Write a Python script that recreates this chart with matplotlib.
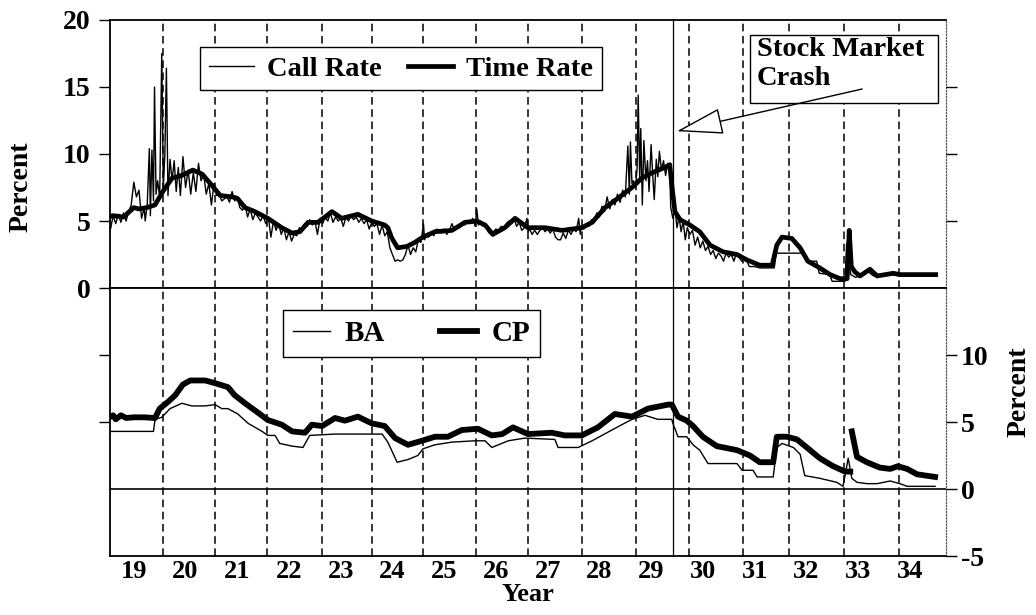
import numpy as np
import matplotlib
matplotlib.use("Agg")
import matplotlib.pyplot as plt
from matplotlib.patches import Rectangle

plt.rcParams['font.family'] = ['Liberation Serif', 'DejaVu Serif']
plt.rcParams['font.weight'] = 'bold'
plt.rcParams['axes.labelweight'] = 'bold'
plt.rcParams['axes.unicode_minus'] = False

# years are written as years since 1900 (19.5 = mid 1919)
call_yr = [19.00, 19.05, 19.10, 19.15, 19.20, 19.25, 19.30, 19.35, 19.40, 19.45,
           19.50, 19.55, 19.60, 19.65, 19.70, 19.72, 19.76, 19.80, 19.82, 19.85,
           19.88, 19.90, 19.93, 19.96, 20.00, 20.04, 20.07, 20.10, 20.13, 20.16,
           20.20, 20.24, 20.28, 20.32, 20.36, 20.40, 20.45, 20.50, 20.55, 20.60,
           20.65, 20.70, 20.75, 20.80, 20.85, 20.90, 20.95, 21.00, 21.05, 21.10,
           21.15, 21.20, 21.30, 21.35, 21.40, 21.45, 21.50, 21.55, 21.60, 21.65,
           21.70, 21.75, 21.80, 21.85, 21.90, 21.95, 22.00, 22.05, 22.10, 22.15,
           22.20, 22.25, 22.30, 22.35, 22.40, 22.45, 22.50, 22.55, 22.60, 22.65,
           22.70, 22.75, 22.80, 22.85, 22.90, 22.95, 23.00, 23.05, 23.10, 23.15,
           23.20, 23.25, 23.30, 23.35, 23.40, 23.45, 23.50, 23.55, 23.60, 23.65,
           23.70, 23.75, 23.80, 23.85, 23.90, 23.95, 24.00, 24.05, 24.10, 24.15,
           24.20, 24.25, 24.30, 24.35, 24.40, 24.45, 24.50, 24.55, 24.60, 24.65,
           24.70, 24.75, 24.80, 24.85, 24.90, 24.95, 25.00, 25.05, 25.10, 25.12,
           25.15, 25.20, 25.25, 25.30, 25.35, 25.40, 25.45, 25.50, 25.55, 25.60,
           25.65, 25.70, 25.75, 25.80, 25.85, 25.90, 25.95, 26.00, 26.05, 26.10,
           26.13, 26.16, 26.20, 26.25, 26.30, 26.35, 26.40, 26.45, 26.50, 26.55,
           26.60, 26.65, 26.70, 26.75, 26.80, 26.85, 26.90, 26.95, 27.00, 27.05,
           27.10, 27.12, 27.15, 27.20, 27.25, 27.30, 27.35, 27.40, 27.45, 27.50,
           27.55, 27.60, 27.65, 27.70, 27.75, 27.80, 27.85, 27.90, 27.95, 28.00,
           28.05, 28.10, 28.13, 28.15, 28.20, 28.25, 28.30, 28.35, 28.40, 28.45,
           28.50, 28.55, 28.60, 28.65, 28.70, 28.75, 28.80, 28.85, 28.90, 28.95,
           29.00, 29.05, 29.08, 29.10, 29.13, 29.16, 29.20, 29.23, 29.25, 29.28,
           29.30, 29.33, 29.36, 29.40, 29.43, 29.46, 29.50, 29.53, 29.56, 29.60,
           29.63, 29.66, 29.70, 29.74, 29.78, 29.82, 29.86, 29.88, 29.92, 29.96,
           30.00, 30.04, 30.08, 30.12, 30.16, 30.20, 30.25, 30.30, 30.35, 30.40,
           30.45, 30.50, 30.55, 30.60, 30.65, 30.70, 30.75, 30.80, 30.85, 30.90,
           30.95, 31.00, 31.05, 31.10, 31.15, 31.20, 31.25, 31.30, 31.35, 31.40,
           31.50, 31.60, 31.70, 31.80, 31.88, 31.92, 32.00, 32.20, 32.45, 32.50,
           32.70, 32.75, 32.95, 33.00, 33.25, 33.28, 33.32, 33.36, 33.45, 33.55,
           33.70, 33.80, 34.00, 34.15, 34.30, 34.60, 35.00]
call_rate = [5.0, 4.4, 5.4, 4.8, 5.5, 4.9, 5.6, 5.0, 5.7, 6.2,
             7.9, 6.8, 7.3, 5.2, 6.0, 5.0, 6.3, 10.4, 5.4, 10.3,
             6.5, 15.0, 7.0, 8.0, 6.8, 17.5, 7.5, 10.0, 16.4, 6.9,
             9.6, 8.0, 9.5, 7.2, 9.0, 6.9, 9.8, 7.5, 8.8, 7.0,
             8.6, 7.2, 9.3, 8.0, 8.5, 7.0, 7.8, 6.2, 7.8, 6.9,
             7.0, 6.5, 6.8, 6.4, 7.2, 6.5, 6.8, 6.0, 5.8, 6.2,
             5.3, 5.9, 5.1, 5.6, 5.3, 5.0, 5.4, 4.8, 5.3, 3.8,
             5.0, 4.3, 4.8, 4.0, 4.5, 3.6, 4.2, 3.5, 4.0, 3.9,
             4.5, 4.2, 4.8, 4.6, 5.1, 4.7, 5.0, 4.0, 5.2, 4.8,
             5.3, 5.0, 5.6, 4.9, 5.3, 5.0, 5.2, 4.6, 5.3, 5.0,
             5.4, 5.1, 5.3, 4.9, 5.2, 4.8, 5.1, 4.4, 4.9, 4.6,
             4.8, 4.0, 4.7, 3.9, 4.2, 3.0, 2.5, 2.0, 2.1, 2.0,
             2.1, 2.5, 3.2, 2.5, 3.0, 2.7, 3.6, 3.4, 4.8, 3.6,
             4.0, 3.8, 4.2, 3.9, 4.4, 4.2, 4.1, 4.4, 4.0, 4.3,
             4.8, 4.3, 4.6, 4.5, 4.9, 4.7, 5.0, 4.8, 5.2, 4.6,
             5.9, 4.7, 5.0, 4.6, 4.8, 4.2, 4.0, 4.2, 4.4, 4.3,
             4.6, 4.5, 4.8, 5.0, 4.8, 5.2, 4.6, 4.9, 4.3, 4.5,
             5.2, 4.2, 4.4, 4.0, 4.3, 4.0, 4.3, 4.5, 4.2, 4.4,
             4.1, 4.4, 3.8, 3.6, 3.6, 4.1, 3.7, 4.3, 4.0, 4.4,
             4.2, 5.2, 4.0, 4.6, 4.4, 4.8, 4.6, 5.1, 4.9, 5.6,
             5.3, 6.1, 5.7, 6.8, 5.9, 6.6, 6.2, 7.0, 6.4, 7.3,
             6.8, 10.6, 7.0, 10.9, 7.8, 8.0, 7.5, 9.0, 14.4, 8.0,
             11.9, 6.2, 11.0, 8.0, 9.5, 7.2, 10.7, 8.5, 6.6, 9.6,
             8.3, 10.2, 8.8, 9.5, 8.4, 9.3, 8.6, 6.0, 5.2, 6.0,
             4.5, 5.3, 4.2, 5.0, 3.6, 4.5, 4.0, 4.3, 3.2, 3.8,
             3.0, 3.5, 2.8, 3.1, 2.5, 2.8, 2.2, 2.6, 2.4, 2.0,
             2.6, 2.3, 2.5, 2.0, 2.6, 2.3, 2.0, 2.1, 2.0, 1.6,
             1.6, 1.5, 1.5, 1.5, 1.5, 2.6, 2.6, 2.6, 2.6, 2.0,
             2.0, 1.1, 1.0, 0.5, 0.5, 3.3, 2.0, 1.0, 0.8, 0.9,
             1.2, 0.9, 0.9, 1.0, 0.9, 0.9, 0.9]

time_yr = [19.0, 19.1, 19.3, 19.5, 19.6, 19.75, 19.91, 20.06, 20.24, 20.43,
           20.64, 20.82, 21.0, 21.17, 21.4, 21.5, 21.65, 21.84, 22.09, 22.36,
           22.56, 22.71, 22.87, 23.06, 23.33, 23.52, 23.83, 24.1, 24.35, 24.41,
           24.49, 24.6, 24.78, 24.93, 25.09, 25.32, 25.65, 25.9, 26.13, 26.29,
           26.44, 26.67, 26.87, 27.12, 27.45, 27.78, 28.16, 28.36, 28.61, 28.86,
           29.13, 29.32, 29.52, 29.77, 29.86, 29.9, 29.96, 30.06, 30.25, 30.44,
           30.64, 30.89, 31.16, 31.35, 31.6, 31.84, 31.93, 32.03, 32.22, 32.38,
           32.53, 32.76, 32.96, 33.15, 33.29, 33.33, 33.37, 33.44, 33.54, 33.73,
           33.87, 34.18, 34.31, 34.83, 35.0]
time_rate = [5.3, 5.4, 5.3, 6.0, 5.9, 6.0, 6.2, 7.2, 8.2, 8.4,
             8.8, 8.5, 7.7, 6.9, 6.8, 6.7, 6.0, 5.7, 5.2, 4.5,
             4.1, 4.2, 4.9, 4.9, 5.7, 5.2, 5.5, 5.0, 4.7, 4.5,
             3.7, 3.0, 3.1, 3.4, 3.8, 4.2, 4.3, 4.9, 5.0, 4.7,
             4.0, 4.5, 5.2, 4.5, 4.5, 4.3, 4.5, 4.9, 6.0, 6.7,
             7.5, 8.2, 8.6, 9.0, 9.2, 7.7, 5.7, 5.1, 4.7, 4.2,
             3.2, 2.7, 2.5, 2.1, 1.7, 1.7, 3.2, 3.8, 3.7, 3.0,
             2.0, 1.5, 1.0, 0.7, 0.7, 4.3, 1.6, 1.2, 0.9, 1.4,
             0.9, 1.1, 1.0, 1.0, 1.0]

ba_yr = [19.0, 19.88, 19.91, 20.04, 20.2, 20.43, 20.62, 20.88, 21.07, 21.2,
         21.32, 21.51, 21.71, 21.98, 22.09, 22.23, 22.32, 22.56, 22.77, 22.9,
         23.39, 24.1, 24.3, 24.41, 24.59, 24.8, 24.99, 25.09, 25.32, 25.65,
         26.1, 26.29, 26.42, 26.74, 27.06, 27.64, 27.7, 28.09, 28.36, 28.74,
         29.13, 29.38, 29.63, 29.9, 29.92, 30.02, 30.19, 30.31, 30.44, 30.6,
         31.16, 31.26, 31.47, 31.55, 31.86, 31.93, 32.03, 32.25, 32.38, 32.47,
         32.76, 33.09, 33.21, 33.31, 33.38, 33.48, 33.67, 33.87, 34.12, 34.31,
         34.45, 34.99]
ba = [4.3, 4.3, 5.2, 5.35, 6.0, 6.4, 6.2, 6.2, 6.3, 6.0,
      6.0, 5.6, 4.9, 4.3, 4.0, 4.0, 3.4, 3.2, 3.1, 4.0,
      4.1, 4.1, 4.1, 3.5, 2.0, 2.2, 2.5, 3.0, 3.3, 3.5,
      3.6, 3.6, 3.1, 3.6, 3.8, 3.7, 3.1, 3.1, 3.6, 4.4,
      5.2, 5.5, 5.2, 5.2, 4.9, 3.9, 3.9, 3.3, 2.9, 1.9,
      1.9, 1.4, 1.4, 0.9, 0.9, 3.1, 3.4, 3.1, 2.6, 1.0,
      0.8, 0.5, 0.2, 2.3, 0.8, 0.5, 0.4, 0.4, 0.6, 0.4,
      0.2, 0.2]

cp_yr = [19.0, 19.1, 19.15, 19.25, 19.35, 19.5, 19.7, 19.91, 20.0, 20.16,
         20.3, 20.45, 20.59, 20.88, 21.07, 21.32, 21.45, 21.65, 21.9, 22.09,
         22.36, 22.56, 22.81, 22.94, 23.14, 23.39, 23.58, 23.83, 24.1, 24.35,
         24.55, 24.8, 25.07, 25.32, 25.57, 25.84, 26.15, 26.42, 26.62, 26.83,
         27.12, 27.58, 27.83, 28.16, 28.47, 28.8, 29.13, 29.44, 29.83, 29.9,
         30.02, 30.19, 30.31, 30.5, 30.77, 31.16, 31.41, 31.6, 31.86, 31.93,
         32.13, 32.32, 32.51, 32.76, 33.02, 33.25, 33.35, 33.36, 33.38, 33.48,
         33.67, 33.92, 34.12, 34.27, 34.45, 34.64, 34.99]
cp = [5.3, 5.5, 5.2, 5.5, 5.3, 5.35, 5.35, 5.3, 6.0, 6.5,
      7.0, 7.8, 8.1, 8.1, 7.9, 7.6, 7.0, 6.4, 5.7, 5.15,
      4.8, 4.3, 4.2, 4.8, 4.7, 5.3, 5.1, 5.4, 4.9, 4.7,
      3.8, 3.3, 3.6, 3.9, 3.9, 4.4, 4.5, 4.0, 4.1, 4.6,
      4.1, 4.2, 4.0, 4.0, 4.6, 5.6, 5.4, 6.0, 6.3, 6.3,
      5.4, 5.1, 4.7, 3.9, 3.2, 2.9, 2.5, 2.0, 2.0, 3.9,
      3.9, 3.7, 3.1, 2.3, 1.7, 1.3, 1.3, np.nan, 4.3, 2.4,
      2.0, 1.6, 1.5, 1.7, 1.5, 1.1, 0.9]

dash_yr = [20.06, 21.07, 22.07, 23.14, 24.10, 25.09, 26.11, 27.12, 28.16,
           29.21, 30.23, 31.28, 32.16, 33.23, 34.29]
crash_yr = 29.92
year_labels = [str(y) for y in range(19, 35)]

fig = plt.figure(figsize=(10.36, 6.15), dpi=100)
L, W, H = 0.1062, 0.8069, 0.4358
ax1 = fig.add_axes([L, 0.5317, W, H])
ax2 = fig.add_axes([L, 0.0959, W, H], sharex=ax1)

for ax in (ax1, ax2):
    for d in dash_yr:
        ax.axvline(d, color='k', lw=1.1, ls=(0, (5, 3)), zorder=1)
    ax.axvline(crash_yr, color='k', lw=0.9, zorder=1)
    for s in ('top', 'bottom', 'left'):
        ax.spines[s].set_linewidth(1.3)
    ax.spines['right'].set_linestyle((0, (1, 1.5)))
    ax.spines['right'].set_linewidth(0.9)
    ax.spines['right'].set_color('0.35')

# top panel
h_time, = ax1.plot(time_yr, time_rate, color='k', lw=3.4, zorder=3)
h_call, = ax1.plot(call_yr, call_rate, color='k', lw=1.0, zorder=3)
ax1.set_xlim(19.04, 35.2)
ax1.set_ylim(0, 20)
ax1.set_yticks([0, 5, 10, 15, 20])
ax1.tick_params(axis='y', direction='out', length=8, width=1, labelsize=20, pad=6)
ax1.tick_params(axis='x', length=0, labelbottom=False)
ax1.set_ylabel('Percent', fontsize=20)
ax1.yaxis.set_label_coords(-0.092, 0.377)
leg1 = ax1.legend([h_call, h_time], ['Call Rate', 'Time Rate'], loc='upper left',
                  bbox_to_anchor=(0.108, 0.899), ncol=2, fontsize=20.5,
                  fancybox=False, edgecolor='k', framealpha=1,
                  handlelength=1.6, handletextpad=0.45, columnspacing=0.9,
                  borderpad=0.3, borderaxespad=0)
leg1.get_frame().set_linewidth(1.0)

r1 = ax1.twinx()
r1.set_ylim(0, 20)
r1.set_yticks([5, 10, 15])
r1.set_yticklabels([])
r1.tick_params(direction='out', length=8, width=1)
for s in r1.spines.values():
    s.set_visible(False)

ax1.add_patch(Rectangle((0.7656, 0.690), 0.2249, 0.254, transform=ax1.transAxes,
                        facecolor='white', edgecolor='k', lw=1.0, zorder=4))
ax1.text(0.774, 0.938, 'Stock Market\nCrash', transform=ax1.transAxes,
         fontsize=20.5, va='top', ha='left', linespacing=1.25, zorder=5)
ax1.annotate('', xy=(30.0, 11.7), xytext=(33.58, 14.85),
             arrowprops=dict(arrowstyle='-|>,head_length=3.0,head_width=0.85',
                             fc='white', ec='k', lw=1.0, shrinkA=0, shrinkB=0,
                             mutation_scale=10),
             zorder=6)

# bottom panel
h_cp, = ax2.plot(cp_yr, cp, color='k', lw=4.2, zorder=3)
h_ba, = ax2.plot(ba_yr, ba, color='k', lw=1.0, zorder=3)
ax2.axhline(0, color='k', lw=1.2, zorder=2)
ax2.set_ylim(-5, 15)
ax2.set_yticks([5, 10])
ax2.set_yticklabels([])
ax2.tick_params(axis='y', direction='out', length=8, width=1)
ax2.set_xticks([y + 0.5 for y in range(19, 35)])
ax2.set_xticklabels(year_labels)
ax2.tick_params(axis='x', length=0, labelsize=19, pad=3)
ax2.set_xlabel('Year', fontsize=19, labelpad=0)
leg2 = ax2.legend([h_ba, h_cp], ['BA', 'CP'], loc='upper left',
                  bbox_to_anchor=(0.207, 0.918), ncol=2, fontsize=21,
                  fancybox=False, edgecolor='k', framealpha=1,
                  handlelength=1.25, handletextpad=0.5, columnspacing=1.9,
                  borderpad=0.35, borderaxespad=0)
leg2.get_frame().set_linewidth(1.0)

r2 = ax2.twinx()
r2.set_ylim(-5, 15)
r2.set_yticks([-5, 0, 5, 10])
r2.tick_params(direction='out', length=8, width=1, labelsize=20, pad=3)
for s in r2.spines.values():
    s.set_visible(False)
r2.set_ylabel('Percent', fontsize=20)
r2.yaxis.set_label_coords(1.073, 0.612)

fig.savefig('out.png', dpi=100)
